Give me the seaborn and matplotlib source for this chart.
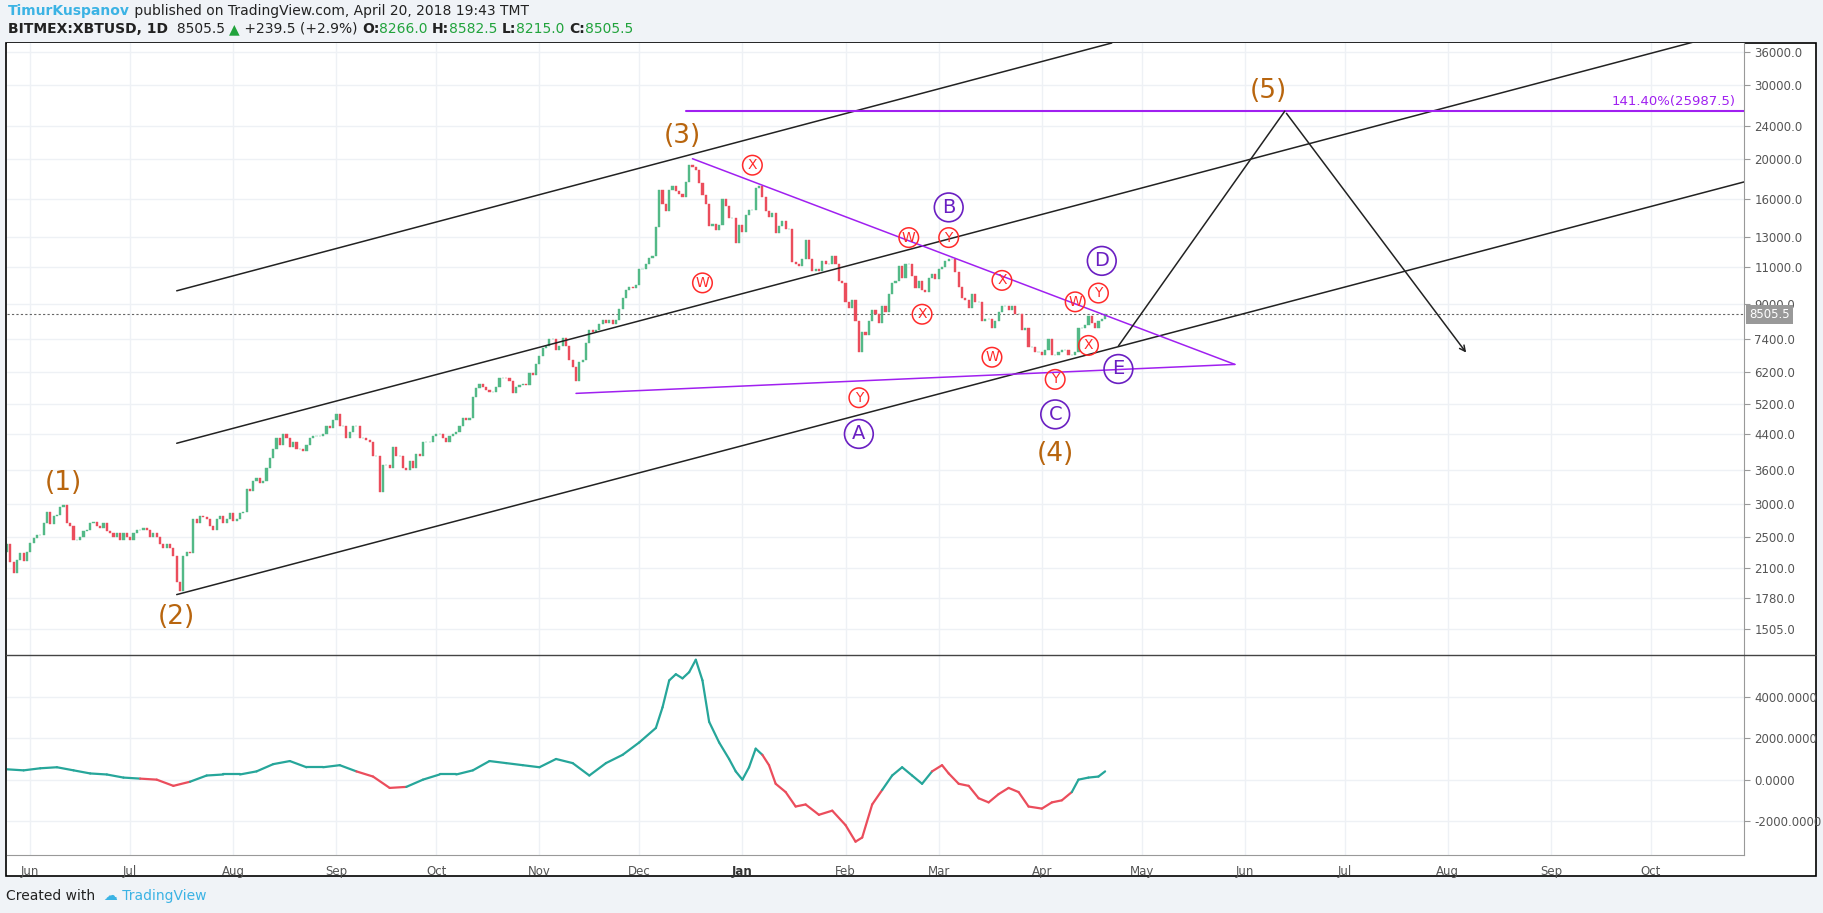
import numpy as np
import pandas as pd
import matplotlib.pyplot as plt
import matplotlib.dates as mdates
from matplotlib.transforms import blended_transform_factory
import seaborn as sns

# ---- data ----
start = '2017-05-25'
closes = [
    # May 25-31 2017
    2400, 2180, 2050, 2200, 2280, 2190, 2300,
    # Jun
    2420, 2480, 2520, 2520, 2700, 2870, 2680, 2800, 2820, 2950, 2980, 2700, 2650, 2450, 2450, 2500,
    2580, 2600, 2700, 2710, 2650, 2620, 2700, 2580, 2550, 2500, 2550, 2450, 2550, 2500,
    # Jul
    2450, 2550, 2600, 2600, 2620, 2600, 2500, 2550, 2500, 2400, 2350, 2400, 2350, 2250, 1950, 1850,
    2250, 2300, 2280, 2750, 2700, 2800, 2780, 2750, 2650, 2600, 2750, 2800, 2700, 2750, 2850,
    # Aug
    2720, 2750, 2850, 2870, 3250, 3220, 3400, 3450, 3350, 3400, 3650, 3850, 4050, 4300, 4150, 4400,
    4300, 4100, 4200, 4050, 4050, 4000, 4150, 4300, 4350, 4350, 4350, 4400, 4600, 4550, 4750,
    # Sep
    4900, 4600, 4600, 4300, 4450, 4600, 4600, 4300, 4300, 4250, 4200, 3900, 3900, 3200, 3700,
    3700, 3650, 4100, 3900, 3900, 3650, 3600, 3800, 3650, 3950, 3900, 4200, 4200, 4200, 4350,
    # Oct
    4400, 4400, 4300, 4200, 4350, 4400, 4450, 4600, 4800, 4750, 4800, 5400, 5650, 5800, 5700, 5600,
    5550, 5550, 5700, 6000, 6000, 5980, 5900, 5500, 5700, 5750, 5800, 5750, 6150, 6100, 6450,
    # Nov
    6750, 7050, 7150, 7400, 7400, 7000, 7150, 7450, 7150, 6600, 6350, 5900, 6550, 6600, 7250,
    7800, 7700, 7800, 8050, 8250, 8100, 8250, 8050, 8250, 8750, 9300, 9700, 9900, 9800, 10000,
    # Dec
    10900, 10900, 11200, 11600, 11700, 13700, 16800, 15600, 15000, 16800, 17200, 16700, 16500, 16200,
    17600, 19300, 19100, 18800, 17500, 16400, 15600, 13800, 14000, 13500, 13900, 16000, 15400, 14400,
    14400, 12600, 13900,
    # Jan 2018
    13400, 14700, 15100, 15100, 17000, 17200, 16200, 15000, 14500, 14800, 13300, 13800, 14200, 13600,
    13600, 11300, 11200, 11100, 11500, 12800, 11500, 10800, 10900, 10800, 11400, 11200, 11200, 11700,
    11200, 10200, 10100,
    # Feb
    9100, 8800, 9200, 8200, 6900, 7700, 7600, 8200, 8700, 8500, 8100, 8900, 8600, 9500, 10100, 10200,
    11100, 10400, 11200, 11200, 10500, 9800, 10200, 9700, 9600, 10400, 10600, 10300,
    # Mar
    10900, 11000, 11400, 11500, 11500, 10700, 9900, 9300, 9200, 8800, 9500, 9100, 9100, 8200, 8300,
    8300, 7900, 8200, 8600, 8900, 8900, 8700, 8900, 8500, 8500, 7800, 7900, 7100, 7100, 6900, 6900,
    # Apr
    6800, 7000, 7400, 6800, 6800, 6900, 7000, 7000, 6800, 6800, 6900, 7900, 7900, 8000, 8400, 8100,
    7900, 8200, 8266, 8505.5,
]
first_open = 2300

osc_dates = ['2017-05-25', '2017-05-30', '2017-06-04', '2017-06-09', '2017-06-14', '2017-06-19',
             '2017-06-24', '2017-06-29', '2017-07-04', '2017-07-09', '2017-07-14', '2017-07-19',
             '2017-07-24', '2017-07-29', '2017-08-03', '2017-08-08', '2017-08-13', '2017-08-18',
             '2017-08-23', '2017-08-28', '2017-09-02', '2017-09-07', '2017-09-12', '2017-09-17',
             '2017-09-22', '2017-09-27', '2017-10-02', '2017-10-07', '2017-10-12', '2017-10-17',
             '2017-10-22', '2017-10-27', '2017-11-01', '2017-11-06', '2017-11-11', '2017-11-16',
             '2017-11-21', '2017-11-26', '2017-12-01', '2017-12-06', '2017-12-08', '2017-12-10',
             '2017-12-12', '2017-12-14', '2017-12-16', '2017-12-18', '2017-12-20', '2017-12-22',
             '2017-12-25', '2017-12-28', '2017-12-30', '2018-01-01', '2018-01-03', '2018-01-05',
             '2018-01-07', '2018-01-09', '2018-01-11', '2018-01-14', '2018-01-17', '2018-01-20',
             '2018-01-24', '2018-01-28', '2018-02-01', '2018-02-04', '2018-02-06', '2018-02-09',
             '2018-02-12', '2018-02-15', '2018-02-18', '2018-02-21', '2018-02-24', '2018-02-27',
             '2018-03-02', '2018-03-04', '2018-03-07', '2018-03-10', '2018-03-13', '2018-03-16',
             '2018-03-19', '2018-03-22', '2018-03-25', '2018-03-28', '2018-04-01', '2018-04-04',
             '2018-04-07', '2018-04-10', '2018-04-12', '2018-04-15', '2018-04-18', '2018-04-20']
osc_values = [500, 450, 550, 600, 450, 300, 250, 100, 50, 0, -300, -100,
              200, 250, 250, 400, 750, 900, 600, 600, 700, 400, 150, -400,
              -350, 0, 250, 250, 450, 900, 800, 700, 600, 1000, 800, 200,
              800, 1200, 1800, 2500, 3500, 4800, 5100, 4900, 5200, 5800, 4800, 2800,
              1800, 1000, 400, 0, 600, 1500, 1200, 700, -200, -600, -1300, -1200,
              -1700, -1500, -2200, -3000, -2800, -1200, -500, 200, 600, 200, -200, 400,
              700, 300, -200, -300, -900, -1100, -700, -400, -600, -1300, -1400, -1100,
              -1000, -600, 0, 100, 150, 400]
osc_red = [0, 0, 0, 0, 0, 0, 0, 0, 0, 1, 1, 1,
           0, 0, 0, 0, 0, 0, 0, 0, 0, 0, 1, 1,
           1, 0, 0, 0, 0, 0, 0, 0, 0, 0, 0, 0,
           0, 0, 0, 0, 0, 0, 0, 0, 0, 0, 0, 0,
           0, 0, 0, 0, 0, 0, 0, 1, 1, 1, 1, 1,
           1, 1, 1, 1, 1, 1, 1, 0, 0, 0, 0, 0,
           1, 1, 1, 1, 1, 1, 1, 1, 1, 1, 1, 1,
           1, 1, 0, 0, 0, 0]

# channel lines (date, price)
channel_upper = [('2017-07-15', 9670), ('2018-04-22', 37800)]
channel_mid = [('2017-07-15', 4180), ('2018-10-29', 40900)]
channel_low = [('2017-07-15', 1818), ('2018-10-29', 17600)]
tri_upper = [('2017-12-17', 20000), ('2018-05-29', 6450)]
tri_lower = [('2017-11-12', 5500), ('2018-05-29', 6450)]
fib_level = 25987.5
fib_start = '2017-12-15'
projection = [('2018-04-24', 7140), ('2018-06-13', 25987.5), ('2018-08-07', 6800)]

wave_labels = ['(1)', '(2)', '(3)', '(4)', '(5)']
wave_dates = ['2017-06-11', '2017-07-15', '2017-12-14', '2018-04-05', '2018-06-08']
wave_prices = [3360, 1610, 22700, 3950, 29100]

abc_labels = ['A', 'B', 'C', 'D', 'E']
abc_dates = ['2018-02-05', '2018-03-04', '2018-04-05', '2018-04-19', '2018-04-24']
abc_prices = [4400, 15300, 4900, 11400, 6290]

wxy_labels = ['W', 'X', 'W', 'Y', 'X', 'X', 'W', 'Y', 'W', 'Y', 'X', 'Y']
wxy_dates = ['2017-12-20', '2018-01-04', '2018-02-20', '2018-03-04', '2018-02-24', '2018-03-20',
             '2018-03-17', '2018-04-05', '2018-04-11', '2018-04-18', '2018-04-15', '2018-02-05']
wxy_prices = [10100, 19300, 12960, 12960, 8500, 10240, 6710, 5940, 9100, 9550, 7160, 5370]

price_ticks = [1505, 1780, 2100, 2500, 3000, 3600, 4400, 5200, 6200, 7400, 9000, 11000,
               13000, 16000, 20000, 24000, 30000, 36000]
osc_ticks = [-2000, 0, 2000, 4000]
last_price = 8505.5

# ---- styling ----
GREEN = '#53b987'
RED = '#eb4d5c'
ORANGE = '#b8650e'
PURPLE = '#6a1fc2'
FIBP = '#a020f0'
GRID = '#eef1f5'
TXT = '#555555'
FS = 8.5
W, H = 1824, 913

sns.set_style('white')
fig = plt.figure(figsize=(W / 100, H / 100), dpi=100, facecolor='#f0f3f7')


def box(l, t, r, b):
    return [l / W, 1 - b / H, (r - l) / W, (b - t) / H]


# white chart frame
fig.add_artist(plt.Rectangle((6 / W, 1 - 876 / H), 1810 / W, 833 / H, transform=fig.transFigure,
                             facecolor='white', edgecolor='black', lw=1.2, zorder=0))
# pane divider
fig.add_artist(plt.Line2D([6 / W, 1816 / W], [1 - 655 / H, 1 - 655 / H], transform=fig.transFigure,
                          color='#444444', lw=1.0, zorder=10))

ax = fig.add_axes(box(7, 43, 1744, 655))
ax2 = fig.add_axes(box(7, 655, 1744, 855), sharex=ax)
for a in (ax, ax2):
    a.set_facecolor('white')
    for s in a.spines.values():
        s.set_visible(False)
    a.spines['right'].set_visible(True)
    a.spines['right'].set_color('#999999')
ax2.spines['bottom'].set_visible(True)
ax2.spines['bottom'].set_color('#999999')

# ---- candles ----
dates = pd.date_range(start, periods=len(closes), freq='D')
closes_arr = np.array(closes, dtype=float)
opens_arr = np.concatenate([[first_open], closes_arr[:-1]])
up = closes_arr >= opens_arr
cols = np.where(up, GREEN, RED)
lo = np.minimum(opens_arr, closes_arr)
hi = np.maximum(opens_arr, closes_arr)
ax.bar(dates, hi - lo, bottom=lo, width=0.65, color=cols, edgecolor=cols, lw=0.3, zorder=3)

ax.set_yscale('log')
ax.set_ylim(1304, 37800)
ax.set_xlim(pd.Timestamp('2017-05-25'), pd.Timestamp('2018-10-29'))
ax.yaxis.tick_right()
ax.set_yticks(price_ticks)
ax.set_yticklabels([f'{t:.1f}' for t in price_ticks])
ax.yaxis.set_minor_locator(plt.NullLocator())
ax.grid(True, color=GRID, lw=1)
ax.tick_params(axis='y', colors=TXT, labelsize=FS, length=4, color='#999999')
ax.tick_params(axis='x', length=0, labelbottom=False)

# last price
ax.axhline(last_price, color='#666666', ls=(0, (2, 2)), lw=0.8, zorder=2)
tr = blended_transform_factory(ax.transAxes, ax.transData)
ax.text(1.003, last_price, f'{last_price}', transform=tr, va='center', ha='left', color='white',
        fontsize=FS, bbox=dict(boxstyle='square,pad=0.25', fc='#999999', ec='none'), zorder=5)


def line(a, pts, **kw):
    xs = [pd.Timestamp(d) for d, _ in pts]
    ys = [p for _, p in pts]
    a.plot(xs, ys, **kw)


for pts in (channel_upper, channel_mid, channel_low):
    line(ax, pts, color='#222222', lw=1.1, zorder=4)
line(ax, tri_upper, color=FIBP, lw=1.1, zorder=4)
line(ax, tri_lower, color=FIBP, lw=1.1, zorder=4)
ax.plot([pd.Timestamp(fib_start), pd.Timestamp('2018-10-29')], [fib_level, fib_level],
        color=FIBP, lw=1.5, zorder=4)
ax.text(0.995, fib_level * 1.02, f'141.40%({fib_level})', transform=tr, ha='right', va='bottom',
        color=FIBP, fontsize=9.5)

line(ax, projection[:2], color='#222222', lw=1.1, zorder=4)
ax.annotate('', xy=(pd.Timestamp(projection[2][0]), projection[2][1]),
            xytext=(pd.Timestamp(projection[1][0]), projection[1][1]),
            arrowprops=dict(arrowstyle='->', color='#222222', lw=1.1), zorder=4)

for lab, d, p in zip(wave_labels, wave_dates, wave_prices):
    ax.text(pd.Timestamp(d), p, lab, color=ORANGE, fontsize=19, ha='center', va='center', zorder=6)
for lab, d, p in zip(abc_labels, abc_dates, abc_prices):
    ax.text(pd.Timestamp(d), p, lab, color=PURPLE, fontsize=14, ha='center', va='center', zorder=6,
            bbox=dict(boxstyle='circle,pad=0.25', fc='none', ec=PURPLE, lw=1.2))
for lab, d, p in zip(wxy_labels, wxy_dates, wxy_prices):
    ax.text(pd.Timestamp(d), p, lab, color='#ff2a2a', fontsize=10, ha='center', va='center',
            zorder=6, bbox=dict(boxstyle='circle,pad=0.2', fc='none', ec='#ff2a2a', lw=1.1))

# ---- oscillator ----
odf = pd.DataFrame({'date': pd.to_datetime(osc_dates), 'value': osc_values, 'red': osc_red})
for i in range(len(odf) - 1):
    seg = odf.iloc[i:i + 2]
    sns.lineplot(data=seg, x='date', y='value', ax=ax2, color=RED if seg['red'].iloc[1] else '#26a69a',
                 lw=1.6, legend=False)
ax2.set_ylim(-3645, 6030)
ax2.yaxis.tick_right()
ax2.set_yticks(osc_ticks)
ax2.set_yticklabels([f'{t:.4f}' for t in osc_ticks])
ax2.set_xlabel('')
ax2.set_ylabel('')
ax2.grid(True, color=GRID, lw=1)
ax2.tick_params(axis='y', colors=TXT, labelsize=FS, length=4, color='#999999')
ax2.tick_params(axis='x', colors=TXT, labelsize=FS, length=4, color='#999999')
ax2.xaxis.set_major_locator(mdates.MonthLocator())
ax2.xaxis.set_major_formatter(mdates.DateFormatter('%b'))
fig.canvas.draw()
for lbl, t in zip(ax2.get_xticklabels(), ax2.get_xticks()):
    if mdates.num2date(t).month == 1:
        lbl.set_text('2018')
        lbl.set_fontweight('bold')
        lbl.set_color('#333333')
ax2.set_xticklabels(ax2.get_xticklabels())


# ---- header / footer ----
def run_text(x, y, pieces):
    r = fig.canvas.get_renderer()
    for s, kw in pieces:
        t = fig.text(x / W, 1 - y / H, s, va='center', ha='left', **kw)
        x += t.get_window_extent(r).width


run_text(8, 11, [('TimurKuspanov', dict(color='#3bb3e4', fontsize=10, fontweight='bold')),
                 (' published on TradingView.com, April 20, 2018 19:43 TMT', dict(color='#222', fontsize=10))])
g = dict(color='#21a33c', fontsize=10)
b = dict(color='#222', fontsize=10, fontweight='bold')
n = dict(color='#222', fontsize=10)
run_text(8, 29, [('BITMEX:XBTUSD, 1D', b), ('  8505.5 ', n), ('▲', g), (' +239.5 (+2.9%) ', n),
                 ('O:', b), ('8266.0 ', g), ('H:', b), ('8582.5 ', g), ('L:', b), ('8215.0 ', g),
                 ('C:', b), ('8505.5', g)])
run_text(6, 896, [('Created with  ', dict(color='#222', fontsize=10)),
                  ('☁ TradingView', dict(color='#3bb3e4', fontsize=10))])

fig.savefig('out.png', dpi=100, facecolor=fig.get_facecolor())
